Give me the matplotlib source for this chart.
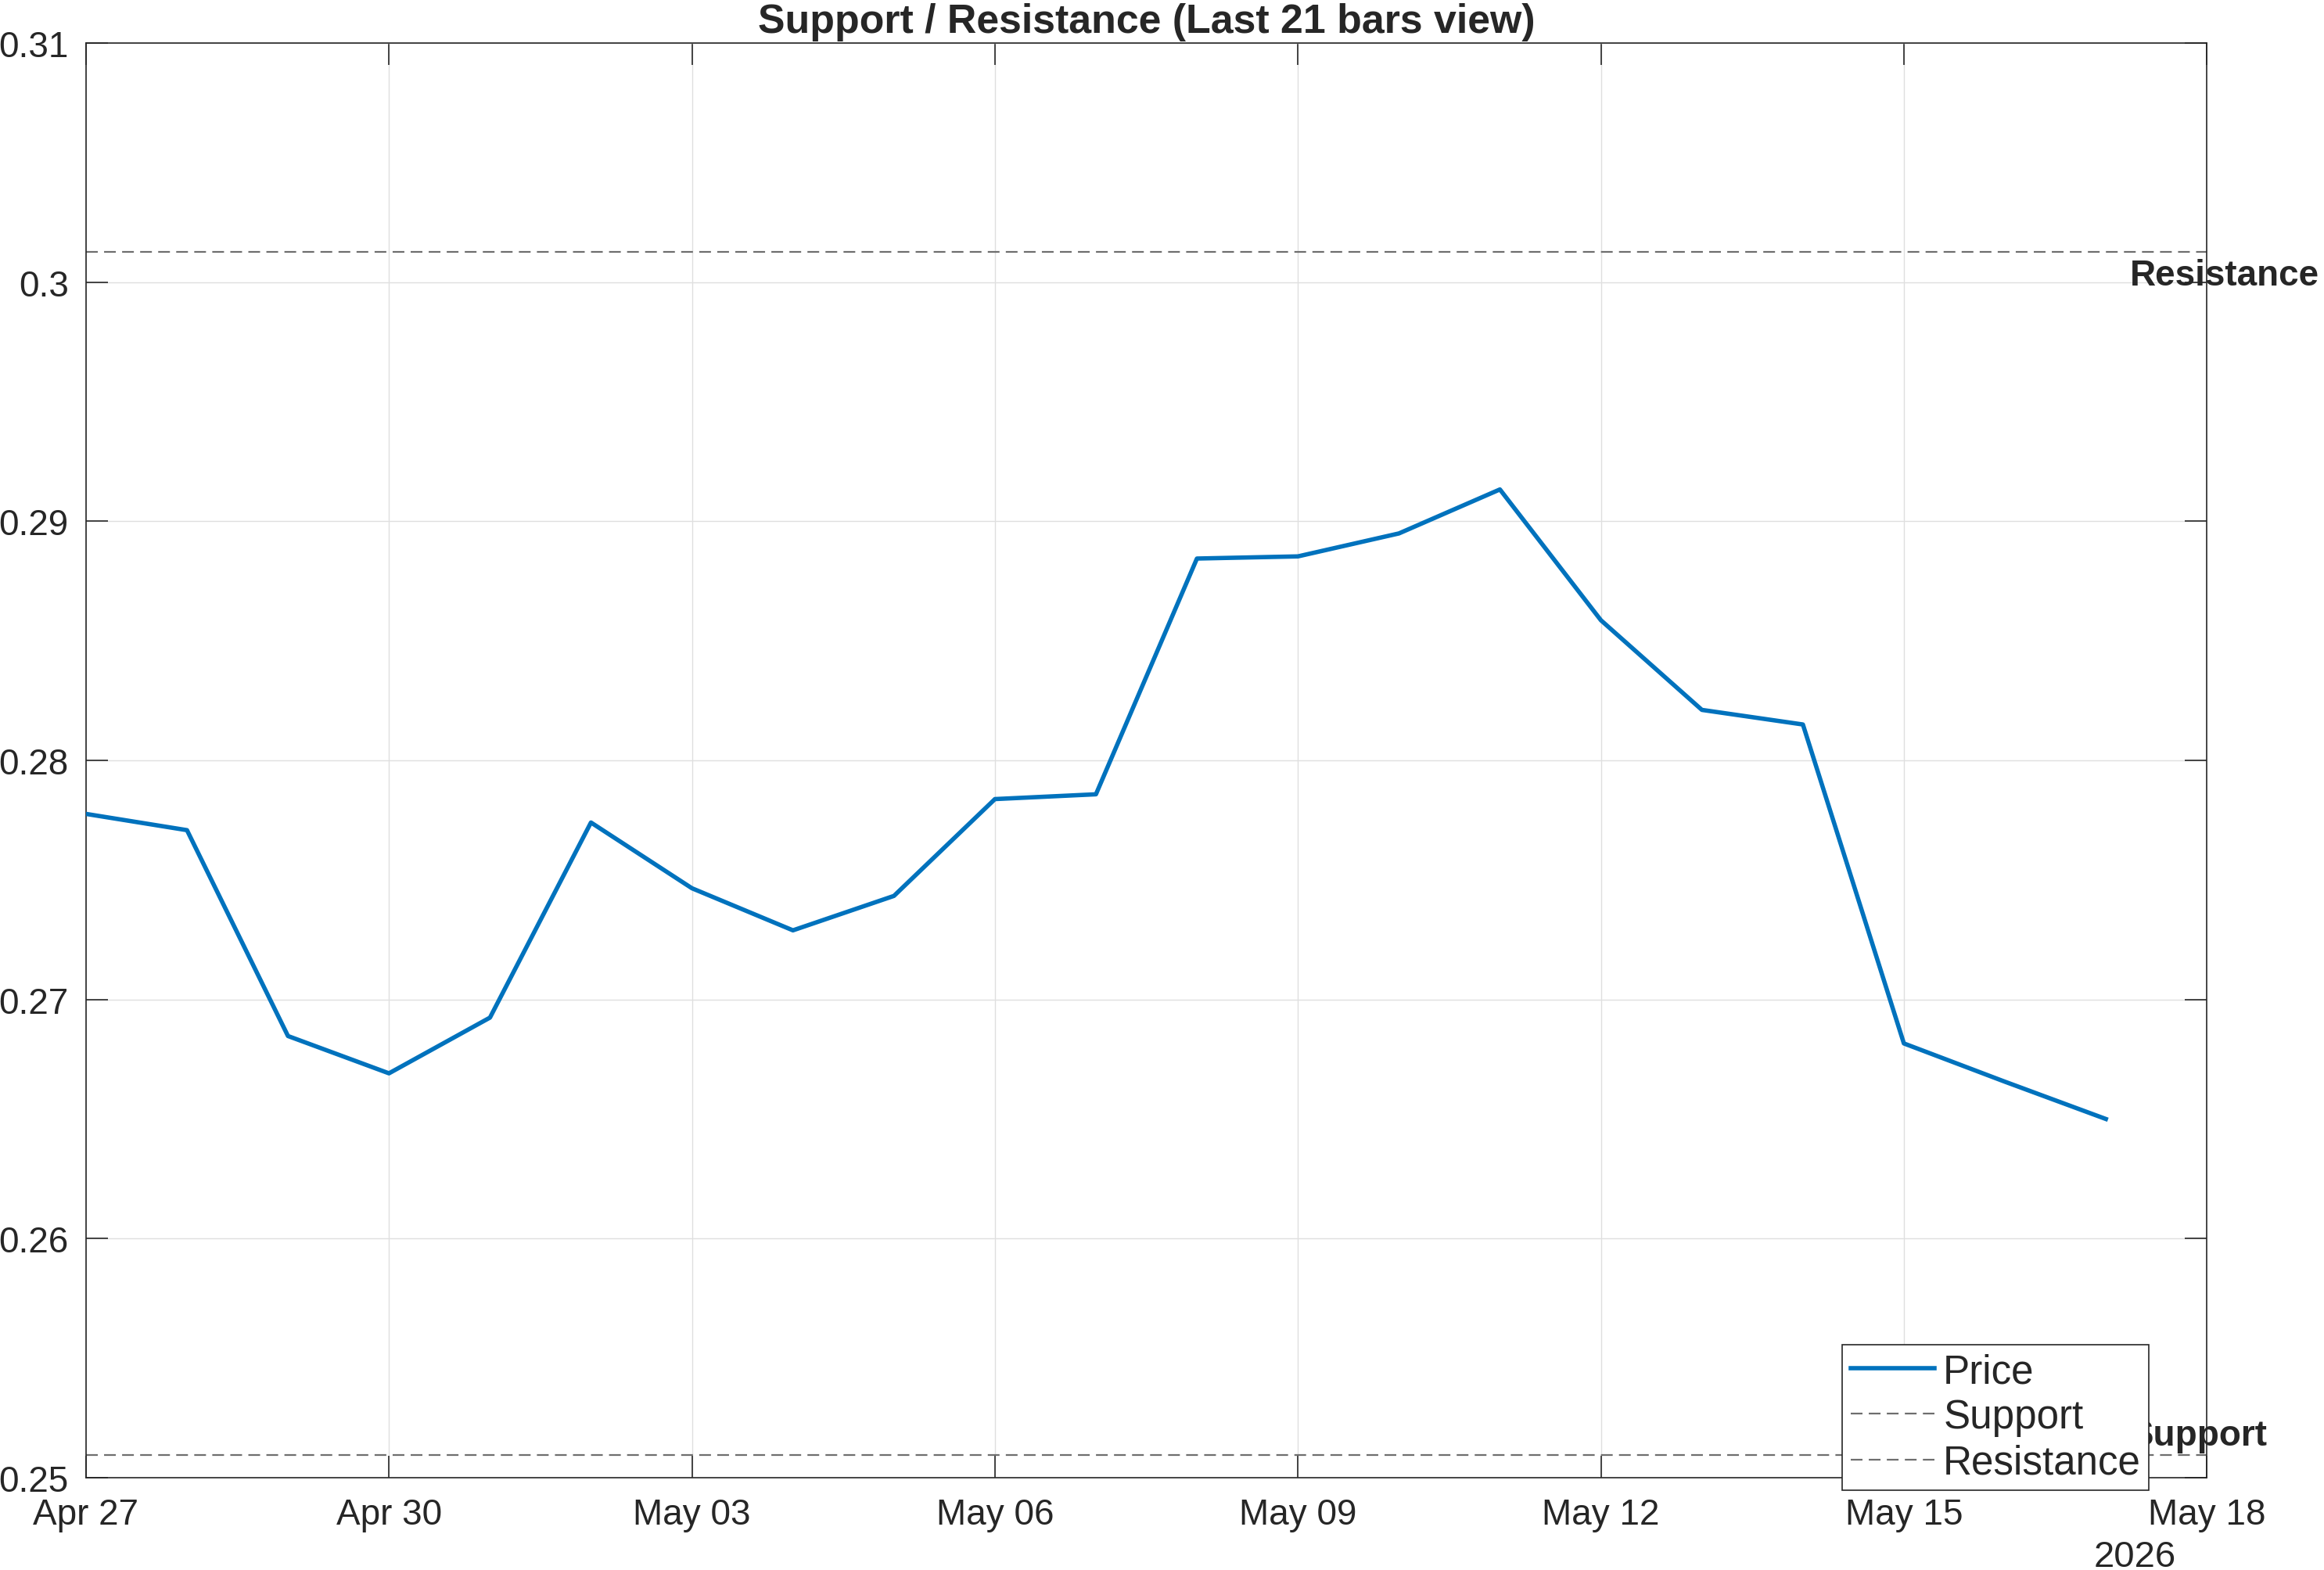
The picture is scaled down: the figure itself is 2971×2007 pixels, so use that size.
import matplotlib
matplotlib.use("Agg")
import matplotlib.pyplot as plt
import matplotlib.dates as mdates
import matplotlib.ticker as mticker
import numpy as np
from datetime import datetime

# closing prices, one per day
dates = ["2026-04-27", "2026-04-28", "2026-04-29", "2026-04-30", "2026-05-01",
         "2026-05-02", "2026-05-03", "2026-05-04", "2026-05-05", "2026-05-06",
         "2026-05-07", "2026-05-08", "2026-05-09", "2026-05-10", "2026-05-11",
         "2026-05-12", "2026-05-13", "2026-05-14", "2026-05-15", "2026-05-16",
         "2026-05-17"]
price = [0.27776, 0.27708, 0.26847, 0.26691, 0.26924, 0.27740, 0.27465,
         0.27289, 0.27433, 0.27838, 0.27858, 0.28844, 0.28853, 0.28949,
         0.29133, 0.28586, 0.28211, 0.28150, 0.26816, 0.26656, 0.26500]
support = 0.25095
resistance = 0.30127

x_start = "2026-04-27"
x_end = "2026-05-18"
y_ticks = [0.25, 0.26, 0.27, 0.28, 0.29, 0.30, 0.31]

dark = "#262626"
plt.rcParams['font.family'] = ['Liberation Sans', 'DejaVu Sans']
plt.rcParams['lines.scale_dashes'] = False

t = [datetime.strptime(d, "%Y-%m-%d") for d in dates]
x0 = datetime.strptime(x_start, "%Y-%m-%d")
x1 = datetime.strptime(x_end, "%Y-%m-%d")

fig = plt.figure(figsize=(2971 / 200, 2008 / 200), dpi=200)
ax = fig.add_axes([0.037, 0.0588, 0.9126, 0.9133])

ax.plot(t, price, color="#0072BD", linewidth=2.0, label="Price", zorder=3)
ax.axhline(support, color="#6e6e6e", linewidth=0.8, linestyle=(0, (5.4, 2.9)),
           label="Support", zorder=2)
ax.axhline(resistance, color="#6e6e6e", linewidth=0.8, linestyle=(0, (5.4, 2.9)),
           label="Resistance", zorder=2)

ax.annotate("Resistance", xy=(t[-1], resistance), xytext=(11, -3),
            textcoords="offset points", ha="left", va="top",
            fontsize=16.5, fontweight="bold", color=dark, annotation_clip=False)
ax.annotate("Support", xy=(t[-1], support), xytext=(11, 1),
            textcoords="offset points", ha="left", va="bottom",
            fontsize=16.5, fontweight="bold", color=dark, annotation_clip=False)

ax.set_xlim(x0, x1)
ax.set_ylim(y_ticks[0], y_ticks[-1])
ax.set_yticks(y_ticks)
ax.yaxis.set_major_formatter(mticker.FuncFormatter(lambda v, p: "%g" % round(v, 4)))
ax.xaxis.set_major_locator(mdates.DayLocator(interval=3))
ax.xaxis.set_major_formatter(mdates.DateFormatter("%b %d"))

ax.grid(True, color="#dfdfdf", linewidth=0.5)
ax.set_axisbelow(True)
for s in ax.spines.values():
    s.set_color(dark)
    s.set_linewidth(0.6)
ax.tick_params(axis="both", direction="in", top=True, right=True, colors=dark,
               width=0.6, length=10)
ax.tick_params(axis="x", pad=9, labelsize=16.5)
ax.tick_params(axis="y", pad=8.0, labelsize=16.5)

ax.set_title("Support / Resistance (Last 21 bars view)", fontsize=18.7,
             fontweight="bold", color=dark, pad=5)
ax.text(0.966, -0.043, "2026", transform=ax.transAxes, ha="center", va="top",
        fontsize=17, color=dark)

leg = ax.legend(loc="lower right", bbox_to_anchor=(0.9727, -0.0086),
                borderaxespad=0, fancybox=False, framealpha=1, fontsize=18.4,
                handlelength=2.1, handletextpad=0.22, borderpad=0.2,
                labelspacing=0.18)
leg.get_frame().set_edgecolor(dark)
leg.get_frame().set_linewidth(0.6)
for txt in leg.get_texts():
    txt.set_color(dark)

fig.savefig("out.png", dpi=200)
